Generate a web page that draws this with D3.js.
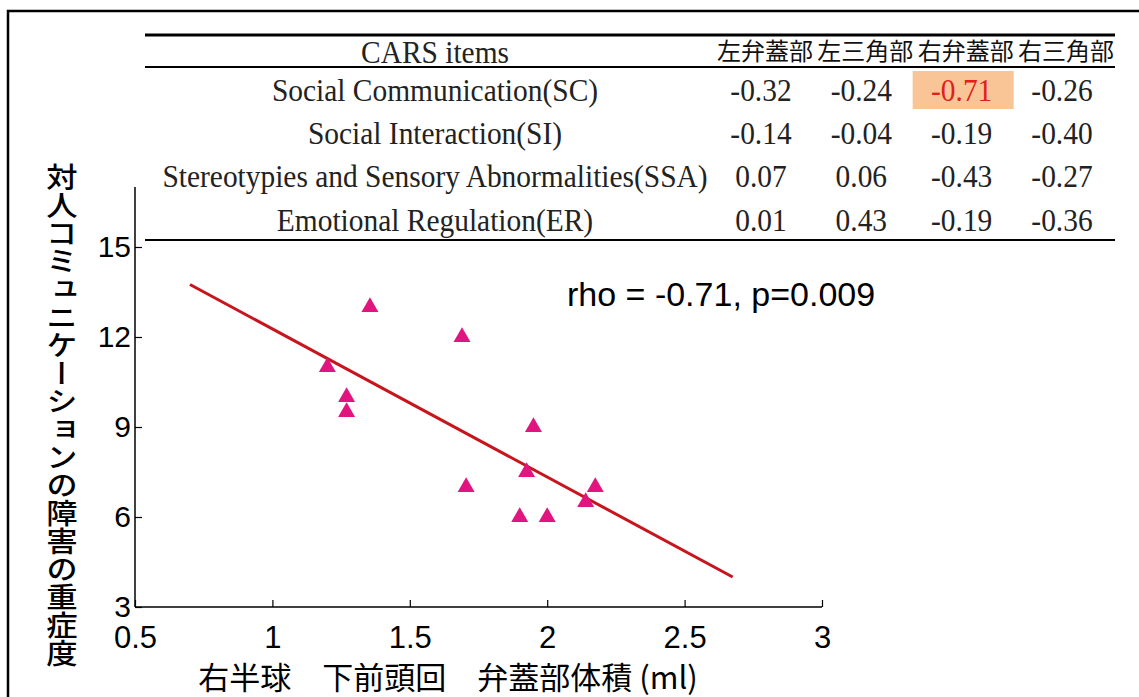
<!DOCTYPE html>
<html>
<head>
<meta charset="utf-8">
<script src="https://cdn.jsdelivr.net/npm/d3@7"></script>
<style>
  html, body { margin: 0; padding: 0; background: #fff; }
  svg { display: block; }
</style>
</head>
<body>
<svg id="chart" width="1139" height="697"></svg>
<script>
// ---- table data ----
const regions = ["左弁蓋部", "左三角部", "右弁蓋部", "右三角部"];
const items = [
  "Social Communication(SC)",
  "Social Interaction(SI)",
  "Stereotypies and Sensory Abnormalities(SSA)",
  "Emotional Regulation(ER)"
];
const rhoSC  = [-0.32, -0.24, -0.71, -0.26];
const rhoSI  = [-0.14, -0.04, -0.19, -0.40];
const rhoSSA = [0.07, 0.06, -0.43, -0.27];
const rhoER  = [0.01, 0.43, -0.19, -0.36];
const highlight = { row: 0, col: 2 };

// ---- scatter data ----
const volume   = [1.20, 1.27, 1.27, 1.355, 1.69, 1.705, 1.95, 1.925, 1.90, 2.00, 2.14, 2.175];
const severity = [11, 10, 9.5, 13, 12, 7, 9, 7.5, 6, 6, 6.5, 7];
const fitX = [0.70, 2.675];
const fitY = [13.75, 4.0];
const xTicks = [0.5, 1, 1.5, 2, 2.5, 3];
const yTicks = [3, 6, 9, 12, 15];
const statText = "rho = -0.71, p=0.009";

const svg = d3.select("#chart");
svg.append("rect").attr("width", 1139).attr("height", 697).attr("fill", "#fff");

// outer frame (top and left edges)
svg.append("path")
  .attr("d", "M8,697 V11 H1139")
  .attr("fill", "none").attr("stroke", "#000").attr("stroke-width", 2.5);

// ---- scatter plot ----
const x = d3.scaleLinear().domain([0.5, 3]).range([135, 822]);
const y = d3.scaleLinear().domain([3, 17]).range([607, 187]);

const gx = svg.append("g").attr("transform", `translate(0,${y(3)})`)
  .call(d3.axisBottom(x).tickValues(xTicks).tickSize(-7).tickPadding(19)
        .tickFormat(d3.format("")));
const gy = svg.append("g").attr("transform", `translate(${x(0.5)},0)`)
  .call(d3.axisLeft(y).tickValues(yTicks).tickSize(-7).tickPadding(4));
[gx, gy].forEach(g => {
  g.select(".domain").attr("stroke", "#000").attr("stroke-width", 1.5);
  g.selectAll(".tick line").attr("stroke", "#000").attr("stroke-width", 1.2);
  g.selectAll(".tick text")
    .attr("font-family", "Liberation Sans, Arial, sans-serif")
    .attr("font-size", 31).attr("fill", "#000");
});
gx.selectAll(".tick text").attr("dy", "0.7em");
gy.selectAll(".tick text").attr("font-size", 30).attr("dy", "0.3em");
// plain axis lines without end caps
gx.select(".domain").attr("d", `M${x(0.5)},0H${x(3)}`);
gy.select(".domain").attr("d", `M0,${y(3)}V${y(17)}`);

// regression line
svg.append("line")
  .attr("x1", x(fitX[0])).attr("y1", y(fitY[0]))
  .attr("x2", x(fitX[1])).attr("y2", y(fitY[1]))
  .attr("stroke", "#c8141c").attr("stroke-width", 3);

// points
const tri = d3.symbol().type(d3.symbolTriangle).size(125);
svg.append("g").selectAll("path")
  .data(volume.map((v, i) => [v, severity[i]]))
  .join("path")
  .attr("d", tri)
  .attr("transform", d => `translate(${x(d[0])},${y(d[1])})`)
  .attr("fill", "#e2147f");

// statistics label
svg.append("text")
  .attr("x", 567).attr("y", 306)
  .attr("font-family", "Liberation Sans, Arial, sans-serif")
  .attr("font-size", 34).attr("fill", "#000")
  .text(statText);

// axis titles
svg.append("text")
  .attr("x", 448).attr("y", 689)
  .attr("text-anchor", "middle")
  .attr("font-family", "Noto Sans CJK JP, sans-serif")
  .attr("font-size", 31).attr("fill", "#000")
  .text("右半球　下前頭回　弁蓋部体積 (ml)");

svg.append("text")
  .attr("transform", "translate(62,163) scale(1.12,1)")
  .style("writing-mode", "vertical-rl")
  .attr("font-family", "Noto Sans CJK JP, sans-serif")
  .attr("font-size", 28).attr("font-weight", 500).attr("fill", "#000")
  .text("対人コミュニケーションの障害の重症度");

// ---- correlation table ----
const rows = [rhoSC, rhoSI, rhoSSA, rhoER];
const col = d3.scalePoint().domain(d3.range(regions.length)).range([765, 1066]);
const row = d3.scalePoint().domain(d3.range(items.length)).range([90, 220]);
const labelX = 435;
const tableLeft = 145, tableRight = 1115;
const serif = "Liberation Serif, Times New Roman, serif";
const narrow = 0.92;   // condensed serif look
const tSize = 32;

const tbl = svg.append("g");
tbl.append("line").attr("x1", tableLeft).attr("x2", tableRight).attr("y1", 35).attr("y2", 35)
  .attr("stroke", "#000").attr("stroke-width", 3);
tbl.append("line").attr("x1", tableLeft).attr("x2", tableRight).attr("y1", 67).attr("y2", 67)
  .attr("stroke", "#000").attr("stroke-width", 2);
tbl.append("line").attr("x1", tableLeft).attr("x2", tableRight).attr("y1", 240).attr("y2", 240)
  .attr("stroke", "#000").attr("stroke-width", 2);

// highlighted cell
tbl.append("rect")
  .attr("x", col(highlight.col) - 53).attr("y", row(highlight.row) - 19)
  .attr("width", 101).attr("height", 38)
  .attr("fill", "#f9c596");

// header
tbl.append("text")
  .attr("transform", `translate(${labelX},52) scale(${narrow},1)`)
  .attr("text-anchor", "middle").attr("dy", "0.33em")
  .attr("font-family", serif).attr("font-size", tSize).attr("fill", "#222")
  .text("CARS items");
tbl.selectAll("text.hdr").data(regions).join("text")
  .attr("class", "hdr")
  .attr("x", (d, i) => col(i)).attr("y", 52).attr("dy", "0.35em")
  .attr("text-anchor", "middle")
  .attr("font-family", "Noto Sans CJK JP, sans-serif")
  .attr("font-size", 24).attr("fill", "#111")
  .text(d => d);

// row labels
tbl.selectAll("text.item").data(items).join("text")
  .attr("class", "item")
  .attr("transform", (d, i) => `translate(${labelX},${row(i)}) scale(${narrow},1)`)
  .attr("text-anchor", "middle").attr("dy", "0.33em")
  .attr("font-family", serif).attr("font-size", tSize).attr("fill", "#222")
  .text(d => d);

// values (ASCII hyphen as the minus sign)
const fmt = v => d3.format(".2f")(v).replace("\u2212", "-");
rows.forEach((vals, ri) => {
  tbl.selectAll(null).data(vals).join("text")
    .attr("transform", (d, ci) => `translate(${col(ci) - 4},${row(ri)}) scale(${narrow},1)`)
    .attr("text-anchor", "middle").attr("dy", "0.33em")
    .attr("font-family", serif).attr("font-size", tSize)
    .attr("fill", (d, ci) => (ri === highlight.row && ci === highlight.col) ? "#e0201a" : "#222")
    .text(d => fmt(d));
});
</script>
</body>
</html>
